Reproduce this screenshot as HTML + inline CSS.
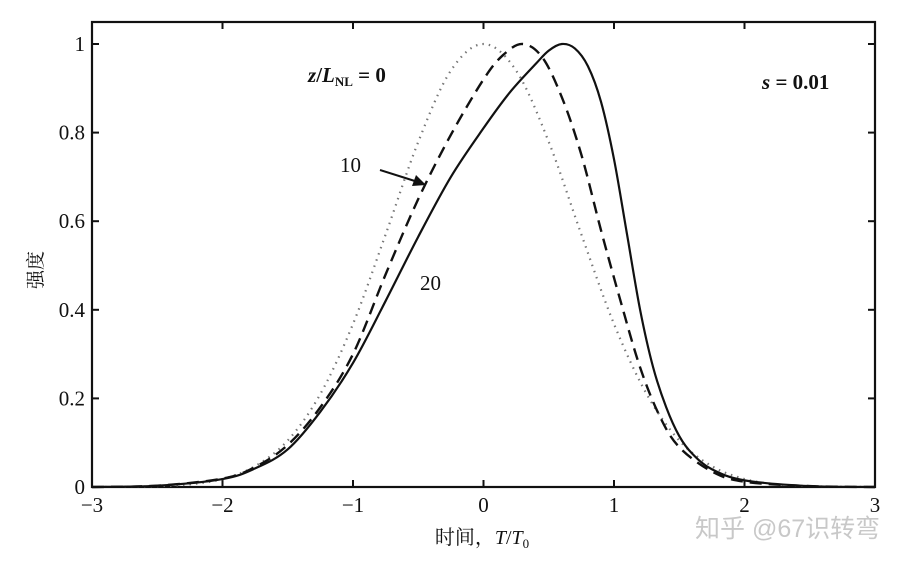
<!DOCTYPE html>
<html><head><meta charset="utf-8"><style>
html,body{margin:0;padding:0;background:#fff;}
svg{display:block;}
text{font-family:"Liberation Serif","Noto Serif CJK SC",serif;fill:#111;}
</style></head><body>
<svg id="chart" width="909" height="564" viewBox="0 0 909 564" xmlns="http://www.w3.org/2000/svg">
<rect x="92" y="22" width="783" height="465" fill="none" stroke="#111" stroke-width="2.2"/>
<g id="ticks"></g>
<g id="series"></g>
<text x="308" y="82" font-size="21" font-weight="bold" font-style="italic">z<tspan font-style="normal">/</tspan>L<tspan font-size="13" dy="4" font-style="normal">NL</tspan><tspan dy="-4" font-style="normal"> = 0</tspan></text>
<text x="762" y="89" font-size="21" font-weight="bold"><tspan font-style="italic">s</tspan> = 0.01</text>
<text x="340" y="172" font-size="21">10</text>
<line x1="380" y1="170" x2="418" y2="182" stroke="#111" stroke-width="2"/>
<polygon points="426,185 412,186 416,175" fill="#111"/>
<text x="420" y="290" font-size="21">20</text>
<text transform="translate(42,270) rotate(-90)" text-anchor="middle" font-size="19">强度</text>
<text x="482" y="544" text-anchor="middle" font-size="20">时间，<tspan font-style="italic">T</tspan>/<tspan font-style="italic">T</tspan><tspan font-size="13" dy="4">0</tspan></text>
<text x="695" y="537" font-size="25" style="fill:#c8c8c8;font-family:'Liberation Sans','Noto Sans CJK SC',sans-serif">知乎 @67识转弯</text>
</svg>
<script>
const xTicks=[-3,-2,-1,0,1,2,3];
const xTickLabels=["−3","−2","−1","0","1","2","3"];
const yTicks=[0,0.2,0.4,0.6,0.8,1];
const yTickLabels=["0","0.2","0.4","0.6","0.8","1"];
const tDotted=[-3,-2.75,-2.5,-2.25,-2,-1.75,-1.5,-1.25,-1,-0.75,-0.5,-0.25,0,0.25,0.5,0.75,1,1.25,1.5,1.75,2,2.25,2.5,2.75,3];
const vDotted=[0.0001,0.0005,0.002,0.006,0.018,0.047,0.105,0.21,0.368,0.57,0.779,0.94,1,0.94,0.779,0.57,0.368,0.21,0.105,0.047,0.018,0.006,0.002,0.0005,0.0001];
const tDashed=[-3,-2.5,-2,-1.75,-1.5,-1.25,-1,-0.75,-0.5,-0.25,0,0.15,0.3,0.45,0.6,0.75,0.9,1.05,1.2,1.35,1.5,1.75,2,2.5,3];
const vDashed=[0,0.003,0.019,0.045,0.095,0.18,0.30,0.48,0.65,0.795,0.92,0.975,1.0,0.97,0.88,0.75,0.58,0.42,0.27,0.16,0.09,0.035,0.012,0.002,0];
const tSolid=[-3,-2.5,-2,-1.75,-1.5,-1.25,-1,-0.75,-0.5,-0.25,0,0.2,0.4,0.5,0.6,0.7,0.8,0.9,1.0,1.1,1.2,1.3,1.4,1.5,1.6,1.75,2,2.5,3];
const vSolid=[0,0.003,0.018,0.042,0.085,0.17,0.28,0.42,0.565,0.70,0.81,0.89,0.955,0.985,1.0,0.99,0.95,0.87,0.74,0.57,0.40,0.27,0.18,0.115,0.075,0.04,0.015,0.002,0];

const NS="http://www.w3.org/2000/svg";
function xs(t){return 483.5+t*130.5;}
function ys(v){return 487-v*443;}
const tk=document.getElementById('ticks');
xTicks.forEach((t,i)=>{
  const x=xs(t);
  const l1=document.createElementNS(NS,'line');
  
  
  l1.setAttribute('x1',x);l1.setAttribute('x2',x);l1.setAttribute('y1',487);l1.setAttribute('y2',480);
  l1.setAttribute('stroke','#111');l1.setAttribute('stroke-width','2');tk.appendChild(l1);
  const l2=document.createElementNS(NS,'line');
  
  
  l2.setAttribute('x1',x);l2.setAttribute('x2',x);l2.setAttribute('y1',22);l2.setAttribute('y2',29);
  l2.setAttribute('stroke','#111');l2.setAttribute('stroke-width','2');tk.appendChild(l2);
  const tx=document.createElementNS(NS,'text');
  
  
  tx.setAttribute('x',x);tx.setAttribute('y',512);tx.setAttribute('text-anchor','middle');tx.setAttribute('font-size','21');
  tx.textContent=xTickLabels[i];tk.appendChild(tx);
});
yTicks.forEach((v,i)=>{
  const y=ys(v);
  const l1=document.createElementNS(NS,'line');
  
  
  l1.setAttribute('x1',92);l1.setAttribute('x2',99);l1.setAttribute('y1',y);l1.setAttribute('y2',y);
  l1.setAttribute('stroke','#111');l1.setAttribute('stroke-width','2');tk.appendChild(l1);
  const l2=document.createElementNS(NS,'line');
  
  
  l2.setAttribute('x1',875);l2.setAttribute('x2',868);l2.setAttribute('y1',y);l2.setAttribute('y2',y);
  l2.setAttribute('stroke','#111');l2.setAttribute('stroke-width','2');tk.appendChild(l2);
  const tx=document.createElementNS(NS,'text');
  
  
  tx.setAttribute('x',85);tx.setAttribute('y',y+7);tx.setAttribute('text-anchor','end');tx.setAttribute('font-size','21');
  tx.textContent=yTickLabels[i];tk.appendChild(tx);
});
function pathFor(ts,vs){
  const p=ts.map((t,i)=>[xs(t),ys(vs[i])]);
  let d='M'+p[0][0]+','+p[0][1];
  for(let i=0;i<p.length-1;i++){
    const p0=p[Math.max(0,i-1)],p1=p[i],p2=p[i+1],p3=p[Math.min(p.length-1,i+2)];
    const c1x=p1[0]+(p2[0]-p0[0])/6,c1y=p1[1]+(p2[1]-p0[1])/6;
    const c2x=p2[0]-(p3[0]-p1[0])/6,c2y=p2[1]-(p3[1]-p1[1])/6;
    d+=' C'+c1x+','+c1y+' '+c2x+','+c2y+' '+p2[0]+','+p2[1];
  }
  return d;
}
const sg=document.getElementById('series');
function addSeries(name,ts,vs,dash,color,w){
  const pth=document.createElementNS(NS,'path');
  
  
  pth.setAttribute('d',pathFor(ts,vs));
  pth.setAttribute('fill','none');pth.setAttribute('stroke',color);pth.setAttribute('stroke-width',w);
  if(dash)pth.setAttribute('stroke-dasharray',dash);
  sg.appendChild(pth);
}
addSeries('curve-z0-dotted',tDotted,vDotted,'1.5,5','#777','2.2');
addSeries('curve-z10-dashed',tDashed,vDashed,'12,7','#111','2.4');
addSeries('curve-z20-solid',tSolid,vSolid,null,'#111','2.2');
</script>
</body></html>
